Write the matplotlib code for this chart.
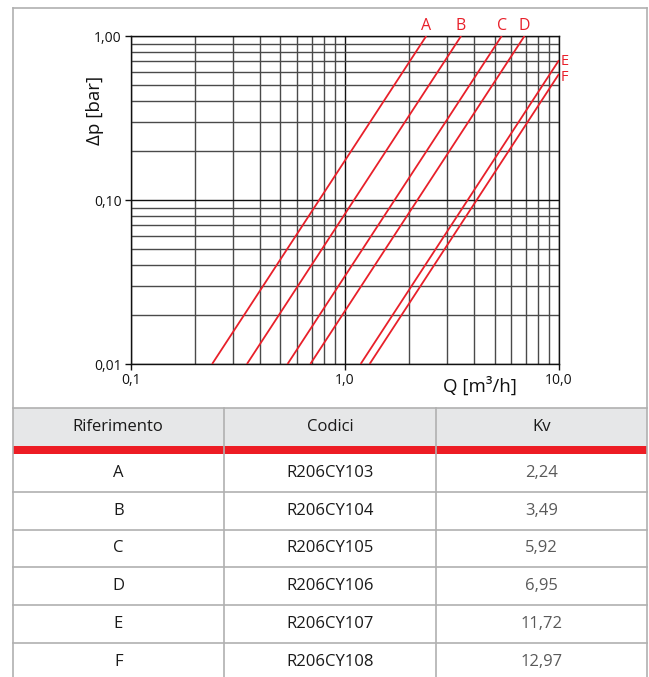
import numpy as np
import matplotlib
matplotlib.use("Agg")
from matplotlib import pyplot as plt
from matplotlib.patches import Rectangle
from matplotlib.lines import Line2D
from matplotlib.ticker import FixedLocator, FixedFormatter, LogLocator, NullFormatter

plt.rcParams['font.family'] = ['Open Sans', 'DejaVu Sans']

# Curves (Kv of each drawn line)
curve_names = ["A", "B", "C", "D", "E", "F"]
curve_kv = [2.40, 3.49, 5.40, 6.90, 11.85, 13.05]

# Table contents
col_headers = ["Riferimento", "Codici", "Kv"]
table_refs = ["A", "B", "C", "D", "E", "F"]
table_codes = ["R206CY103", "R206CY104", "R206CY105", "R206CY106", "R206CY107", "R206CY108"]
table_kv = ["2,24", "3,49", "5,92", "6,95", "11,72", "12,97"]

x_ticks = [0.1, 1.0, 10.0]
x_tick_labels = ["0,1", "1,0", "10,0"]
y_ticks = [0.01, 0.1, 1.0]
y_tick_labels = ["0,01", "0,10", "1,00"]

RED = "#e8202a"
GRAY = "#b0b0b0"

W, H = 649, 677
fig = plt.figure(figsize=(W / 100, H / 100), dpi=100)


def fx(px):
    return px / W


def fy(py):
    return 1 - py / H


ax = fig.add_axes([fx(130.7), fy(364), fx(559) - fx(130.7), fy(36) - fy(364)])
ax.set_xscale("log")
ax.set_yscale("log")
ax.set_xlim(0.1, 10)
ax.set_ylim(0.01, 1)

ax.xaxis.set_major_locator(FixedLocator(x_ticks))
ax.xaxis.set_major_formatter(FixedFormatter(x_tick_labels))
ax.yaxis.set_major_locator(FixedLocator(y_ticks))
ax.yaxis.set_major_formatter(FixedFormatter(y_tick_labels))
ax.xaxis.set_minor_locator(LogLocator(base=10, subs=np.arange(2, 10)))
ax.yaxis.set_minor_locator(LogLocator(base=10, subs=np.arange(2, 10)))
ax.xaxis.set_minor_formatter(NullFormatter())
ax.yaxis.set_minor_formatter(NullFormatter())

ax.grid(which="major", color="#111111", lw=1.0)
ax.grid(which="minor", color="#4a4a4a", lw=1.0)
ax.set_axisbelow(True)
ax.tick_params(which="major", length=4, width=1, direction="out", pad=2.5,
               labelsize=10, colors="#111111")
ax.tick_params(which="minor", length=0)
for s in ax.spines.values():
    s.set_color("#111111")
    s.set_linewidth(1.0)

# Δp = (Q / Kv)^2
side_shift = {"E": -1, "F": 2}
for name, kv in zip(curve_names, curve_kv):
    q = np.array([kv * 0.1, min(kv, 10.0)])
    dp = (q / kv) ** 2
    ax.plot(q, dp, color=RED, lw=1.3, zorder=3, solid_capstyle="butt")
    if kv <= 10:
        ax.annotate(name, (q[-1], dp[-1]), xytext=(0, 10), textcoords="offset pixels",
                    ha="center", va="center", color=RED, fontsize=11.5,
                    annotation_clip=False)
    else:
        ax.annotate(name, (q[-1], dp[-1]), xytext=(2, -side_shift[name]),
                    textcoords="offset pixels", ha="left", va="center_baseline",
                    color=RED, fontsize=10.5, annotation_clip=False)

fig.text(fx(95), fy(110), "Δp [bar]", rotation=90, ha="center", va="center",
         fontsize=13.5, color="#111111")
fig.text(fx(480), fy(386), "Q [m³/h]", ha="center", va="center",
         fontsize=13.5, color="#111111")

# outer frame
L, R, T = 12.5, 647, 8
for (x0, y0, x1, y1) in [(L, T, R, T), (L, T, L, H), (R, T, R, H)]:
    fig.add_artist(Line2D([fx(x0), fx(x1)], [fy(y0), fy(y1)], color=GRAY, lw=1.2,
                          transform=fig.transFigure))

# table
head_top, head_bot, red_bot = 408, 446, 454
row_h = 37.8
col_x = [L, 224, 436, R]

fig.add_artist(Rectangle((fx(L), fy(head_bot)), fx(R) - fx(L), fy(head_top) - fy(head_bot),
                         facecolor="#e6e7e8", edgecolor="none", transform=fig.transFigure))
for cx in col_x[1:-1]:
    fig.add_artist(Line2D([fx(cx), fx(cx)], [fy(head_top), fy(H)], color=GRAY, lw=1.2,
                          transform=fig.transFigure))
fig.add_artist(Line2D([fx(L), fx(R)], [fy(head_top), fy(head_top)], color=GRAY, lw=1.2,
                      transform=fig.transFigure))
fig.add_artist(Rectangle((fx(L), fy(red_bot)), fx(R) - fx(L), fy(head_bot) - fy(red_bot),
                         facecolor="#ed1c24", edgecolor="none", transform=fig.transFigure))

for i, h in enumerate(col_headers):
    fig.text(fx((col_x[i] + col_x[i + 1]) / 2), fy((head_top + head_bot) / 2), h,
             ha="center", va="center", fontsize=12, color="#1a1a1a")

for r in range(len(table_refs)):
    top = red_bot + r * row_h
    if r > 0:
        fig.add_artist(Line2D([fx(L), fx(R)], [fy(top), fy(top)], color=GRAY, lw=1.2,
                              transform=fig.transFigure))
    yc = fy(top + row_h / 2)
    fig.text(fx((col_x[0] + col_x[1]) / 2), yc, table_refs[r], ha="center", va="center",
             fontsize=12, color="#1a1a1a")
    fig.text(fx((col_x[1] + col_x[2]) / 2), yc, table_codes[r], ha="center", va="center",
             fontsize=12, color="#1a1a1a")
    fig.text(fx((col_x[2] + col_x[3]) / 2), yc, table_kv[r], ha="center", va="center",
             fontsize=12, color="#5a5a5a")

fig.savefig("out.png", dpi=100)
